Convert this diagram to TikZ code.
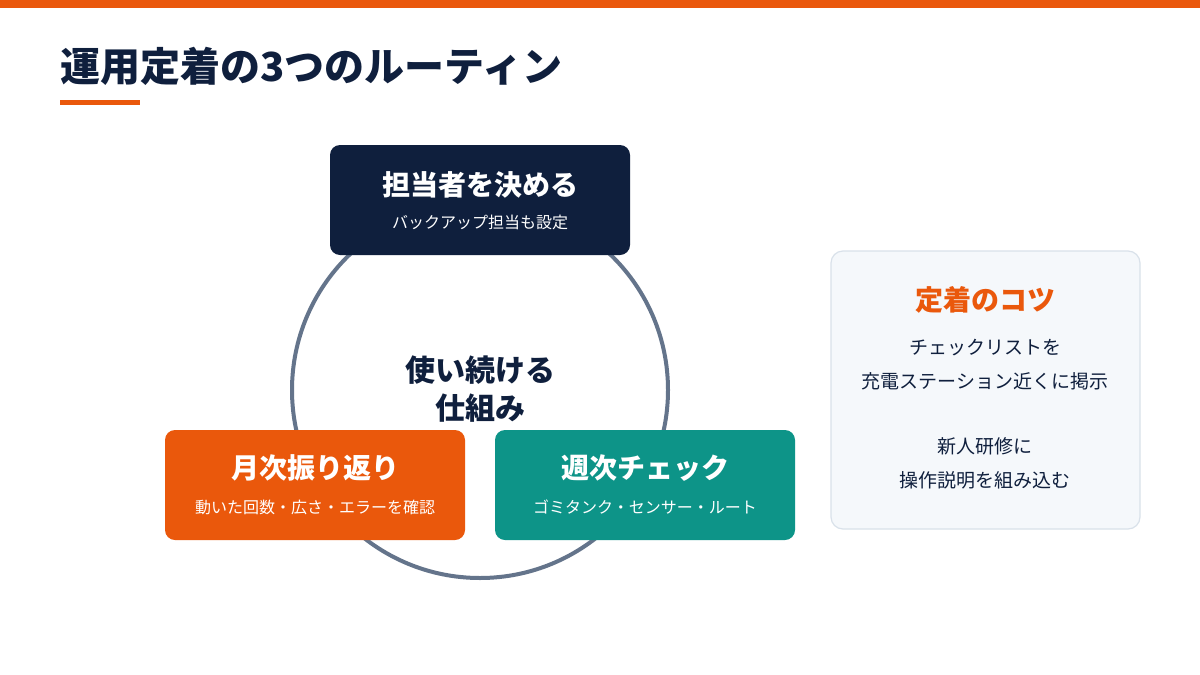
\documentclass[tikz,border=0pt]{standalone}
\usepackage{fontspec}
\setmainfont{Noto Sans CJK JP}
\definecolor{navy}{HTML}{0F1F3D}
\definecolor{org}{HTML}{EA580C}
\definecolor{teal}{HTML}{0D9488}
\definecolor{ring}{HTML}{64748B}
\definecolor{panel}{HTML}{F5F8FB}
\definecolor{panelb}{HTML}{D9E1EA}
\begin{document}
\begin{tikzpicture}[x=1pt,y=-1pt,
 box/.style={rounded corners=10pt,minimum width=300pt,minimum height=110pt,inner sep=0pt},
 head/.style={text=white,font=\fontsize{28}{32}\selectfont\bfseries},
 sub/.style={text=white,font=\fontsize{16}{19}\selectfont},
 tip/.style={text=navy,font=\fontsize{19}{23}\selectfont,align=center}]
\useasboundingbox (0,0) rectangle (1200,675);
\fill[white] (0,0) rectangle (1200,675);
\fill[org] (0,0) rectangle (1200,8);
\node[anchor=west,text=navy,font=\fontsize{40}{44}\selectfont\bfseries,inner sep=0pt] (title) at (60,66) {運用定着の3つのルーティン};
\fill[org] (60,100) rectangle (140,105);
\node[circle,draw=ring,line width=4pt,minimum size=376pt] (ring) at (480,390) {};
\node[text=navy,font=\fontsize{30}{38}\selectfont\bfseries,align=center] (core) at (480,389) {使い続ける\\仕組み};
\node[box,fill=navy] (top) at (480,200) {};
\node[head] (topt) at (480,185) {担当者を決める};
\node[sub] (tops) at (480,222) {バックアップ担当も設定};
\node[box,fill=org] (left) at (315,485) {};
\node[head] (leftt) at (315,468) {月次振り返り};
\node[sub] (lefts) at (315,507) {動いた回数・広さ・エラーを確認};
\node[box,fill=teal] (right) at (645,485) {};
\node[head] (rightt) at (645,468) {週次チェック};
\node[sub] (rights) at (645,507) {ゴミタンク・センサー・ルート};
\node[rounded corners=12pt,fill=panel,draw=panelb,line width=1.2pt,minimum width=309pt,minimum height=278pt] (panel) at (985.5,390) {};
\node[text=org,font=\fontsize{28}{32}\selectfont\bfseries] (pt) at (985,300) {定着のコツ};
\node[tip] (p1) at (985,348) {チェックリストを};
\node[tip] (p2) at (985,381) {充電ステーション近くに掲示};
\node[tip] (p3) at (985,446) {新人研修に};
\node[tip] (p4) at (985,480) {操作説明を組み込む};
\end{tikzpicture}
\end{document}
